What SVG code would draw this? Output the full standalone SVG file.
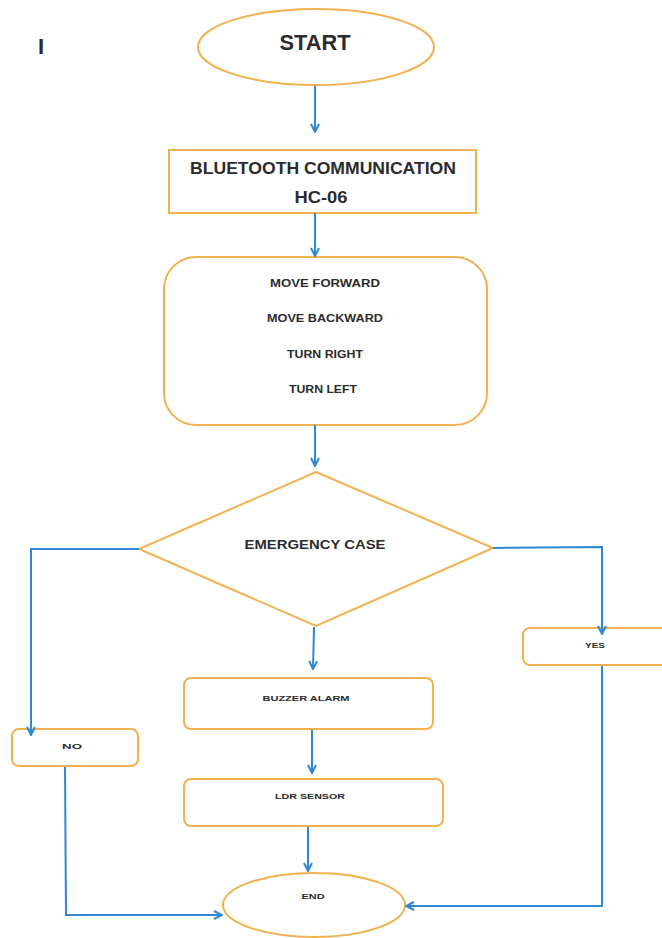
<svg xmlns="http://www.w3.org/2000/svg" width="662" height="938" viewBox="0 0 662 938">
<style>
.shape{fill:#fff;stroke:#F2B14E;stroke-width:2}
.conn{fill:none;stroke:#2E88D4;stroke-width:2}
.t{font-family:"Liberation Sans",Arial,sans-serif;font-weight:bold;fill:#2b2b2b;text-anchor:middle;dominant-baseline:central}
</style>
<defs>
<marker id="arr" viewBox="0 0 10 10" refX="9" refY="5" markerWidth="10" markerHeight="10" markerUnits="userSpaceOnUse" orient="auto">
<polyline points="1,1 9,5 1,9" fill="none" stroke="#2E88D4" stroke-width="2"/>
</marker>
</defs>
<rect width="662" height="938" fill="#fff"/>
<text class="t" x="41" y="46" font-size="22" font-weight="normal">I</text>
<g id="start">
<ellipse class="shape" cx="316" cy="47" rx="118" ry="38"/>
<text class="t" x="315" y="42" font-size="22" textLength="71" lengthAdjust="spacingAndGlyphs">START</text>
</g>
<g id="bluetooth">
<rect class="shape" x="169" y="150" width="307" height="63"/>
<text class="t" x="323" y="168" font-size="17" textLength="266" lengthAdjust="spacingAndGlyphs">BLUETOOTH COMMUNICATION</text>
<text class="t" x="321" y="197" font-size="17" textLength="53" lengthAdjust="spacingAndGlyphs">HC-06</text>
</g>
<g id="moves">
<rect class="shape" x="164" y="257" width="323" height="168" rx="32" ry="32"/>
<text class="t" x="325" y="283" font-size="11" textLength="110" lengthAdjust="spacingAndGlyphs">MOVE FORWARD</text>
<text class="t" x="325" y="318" font-size="11" textLength="116" lengthAdjust="spacingAndGlyphs">MOVE BACKWARD</text>
<text class="t" x="325" y="354" font-size="11" textLength="76" lengthAdjust="spacingAndGlyphs">TURN  RIGHT</text>
<text class="t" x="323" y="389" font-size="11" textLength="68" lengthAdjust="spacingAndGlyphs">TURN  LEFT</text>
</g>
<g id="emergency">
<polygon class="shape" points="316,472 493,548 316,626 139,549"/>
<text class="t" x="315" y="544" font-size="13" textLength="141" lengthAdjust="spacingAndGlyphs">EMERGENCY CASE</text>
</g>
<g id="yes">
<rect class="shape" x="523" y="628" width="145" height="37" rx="7" ry="7"/>
<text class="t" x="595" y="645" font-size="7" textLength="20" lengthAdjust="spacingAndGlyphs">YES</text>
</g>
<g id="no">
<rect class="shape" x="12" y="729" width="126" height="37" rx="7" ry="7"/>
<text class="t" x="72" y="746" font-size="8" textLength="20" lengthAdjust="spacingAndGlyphs">NO</text>
</g>
<g id="buzzer">
<rect class="shape" x="184" y="678" width="249" height="51" rx="7" ry="7"/>
<text class="t" x="306" y="698" font-size="8" textLength="87" lengthAdjust="spacingAndGlyphs">BUZZER  ALARM</text>
</g>
<g id="ldr">
<rect class="shape" x="184" y="779" width="259" height="47" rx="7" ry="7"/>
<text class="t" x="310" y="796" font-size="8" textLength="70" lengthAdjust="spacingAndGlyphs">LDR SENSOR</text>
</g>
<g id="end">
<ellipse class="shape" cx="314" cy="905" rx="91" ry="32"/>
<text class="t" x="313" y="896" font-size="8" textLength="23" lengthAdjust="spacingAndGlyphs">END</text>
</g>
<g id="connectors">
<line class="conn" x1="315" y1="86" x2="315" y2="132" marker-end="url(#arr)"/>
<line class="conn" x1="315" y1="213" x2="315" y2="256" marker-end="url(#arr)"/>
<line class="conn" x1="315" y1="425" x2="315" y2="466" marker-end="url(#arr)"/>
<polyline class="conn" points="139,549 31,549 31,735" marker-end="url(#arr)"/>
<polyline class="conn" points="493,548 602,547 602,634" marker-end="url(#arr)"/>
<line class="conn" x1="314" y1="627" x2="313" y2="669" marker-end="url(#arr)"/>
<line class="conn" x1="312" y1="730" x2="312" y2="773" marker-end="url(#arr)"/>
<line class="conn" x1="308" y1="827" x2="308" y2="871" marker-end="url(#arr)"/>
<polyline class="conn" points="65,767 66,915 222,915" marker-end="url(#arr)"/>
<polyline class="conn" points="602,666 602,906 406,906" marker-end="url(#arr)"/>
</g>
</svg>
